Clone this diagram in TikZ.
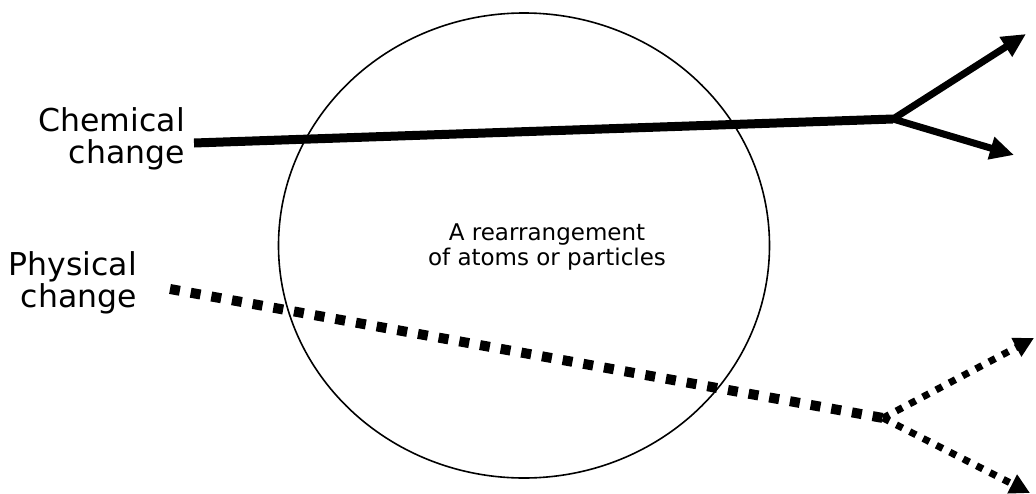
\documentclass[tikz,border=0pt]{standalone}
\usepackage{fontspec}
\setmainfont{DejaVu Sans}
\usetikzlibrary{arrows.meta}
\begin{document}
\begin{tikzpicture}[x=1pt,y=-1pt,
  label/.style={font=\fontsize{31.5}{31.5}\selectfont, align=right, inner sep=0pt, anchor=base east},
  chem/.style={line width=9pt},
  chembr/.style={line width=7pt, -{Triangle[length=24pt,width=22pt]}},
  phys/.style={line width=10pt, dash pattern=on 10pt off 11pt},
  physbr/.style={line width=7pt, dash pattern=on 7pt off 8pt, -{Triangle[length=20pt,width=20pt]}}]
\useasboundingbox (0,0) rectangle (1036,493);
\draw[line width=1.6pt] (524,245.5) ellipse [x radius=245.5, y radius=232.5];
\node[font=\fontsize{23}{25}\selectfont, align=center, inner sep=0pt, anchor=base] (txt) at (547,265) {A rearrangement\\of atoms or particles};
\node[label] (chemlbl) at (185,163) {Chemical\\change};
\node[label] (physlbl) at (137,307) {Physical\\change};
\coordinate (cs) at (194,143);
\coordinate (cb) at (893,119);
\coordinate (ct1) at (1026,34);
\coordinate (ct2) at (1014,155);
\draw[chem] (cs) -- (cb);
\draw[chembr] (cb) -- (ct1);
\draw[chembr] (cb) -- (ct2);
\coordinate (ps) at (170,289);
\coordinate (pb) at (883,418);
\coordinate (pt1) at (1034,338);
\coordinate (pt2) at (1030,493);
\draw[phys] (ps) -- (pb);
\draw[physbr] (pb) -- (pt1);
\draw[physbr] (pb) -- (pt2);
\end{tikzpicture}
\end{document}
